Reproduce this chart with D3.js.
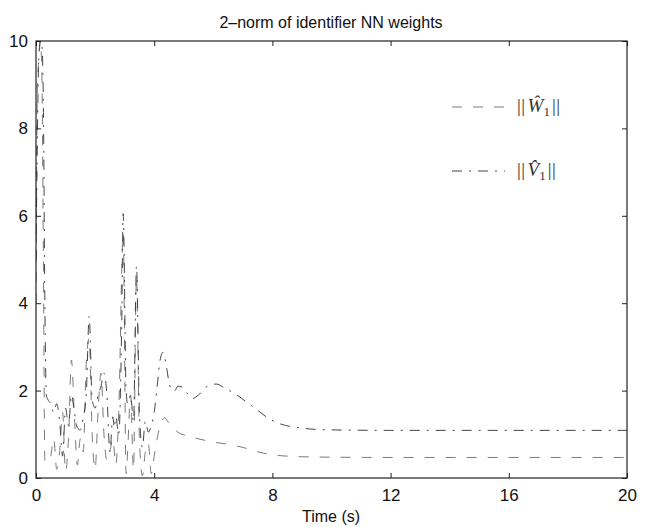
<!DOCTYPE html>
<html><head><meta charset="utf-8">
<script src="https://cdn.jsdelivr.net/npm/d3@7"></script>
<style>body{margin:0;background:#fff}svg{display:block}</style>
</head><body>
<svg id="c" width="648" height="527"></svg>
<script>
const titleText = "2\u2013norm of identifier NN weights";
const xLabelText = "Time (s)";
const xTicks = [0, 4, 8, 12, 16, 20];
const yTicks = [0, 2, 4, 6, 8, 10];

// ||W1|| (dashed)
const tW = [0,0.05,0.1,0.15,0.2,0.25,0.3,0.4,0.5,0.6,0.7,0.8,0.9,1.0,1.1,1.2,1.3,1.4,1.5,1.6,1.7,1.8,1.9,2.0,2.1,2.2,2.3,2.4,2.5,2.6,2.7,2.8,2.95,3.05,3.1,3.2,3.3,3.4,3.5,3.6,3.7,3.8,3.9,4.0,4.1,4.2,4.35,4.5,4.8,5.2,5.8,6.5,7.0,7.5,8.0,8.5,9.5,12,20];
const vW = [4,9,9.6,10,9.2,5,0.4,0.35,0.5,0.9,0.2,0.6,1.5,0.15,0.9,2.7,1.4,0.3,0.9,0.6,2.6,3.2,1.0,0.2,1.5,2.4,1.0,0.4,0.6,0.9,0.3,1.5,5.6,0.1,0.6,1.9,0.2,4.6,0.9,0.05,0.6,0.8,0.1,0.5,0.9,1.2,1.38,1.25,1.05,0.95,0.85,0.77,0.7,0.6,0.53,0.5,0.48,0.47,0.47];

// ||V1|| (dash-dot)
const tV = [0,0.05,0.1,0.15,0.2,0.25,0.3,0.35,0.4,0.5,0.6,0.7,0.8,0.9,1.0,1.1,1.2,1.3,1.4,1.5,1.6,1.7,1.8,1.9,2.0,2.1,2.2,2.3,2.4,2.5,2.6,2.65,2.7,2.8,2.9,2.95,3.05,3.1,3.2,3.3,3.4,3.5,3.6,3.7,3.8,3.9,4.0,4.1,4.2,4.3,4.4,4.5,4.6,4.7,4.8,4.95,5.1,5.3,5.5,5.8,6.1,6.4,6.8,7.1,7.5,7.9,8.3,8.8,9.3,10,12,20];
const vV = [5,8,9.7,10,9.9,8.5,4,1.9,1.8,1.7,1.5,1.7,1.3,0.5,1.6,1.2,1.9,1.5,1.15,1.1,1.4,1.9,3.7,1.8,1.6,1.9,2.1,2.4,1.9,0.6,1.4,1.15,1.4,1.0,3.5,6.05,2.0,1.7,1.9,1.3,4.85,1.5,0.7,1.3,1.05,1.2,1.5,2.1,2.7,2.88,2.6,2.2,2.0,2.0,2.1,2.08,1.95,1.82,1.9,2.1,2.15,2.05,1.9,1.75,1.55,1.35,1.23,1.16,1.12,1.1,1.09,1.09];

const svg = d3.select("#c");
const L = 36, R = 627, T = 41, B = 478;
const x = d3.scaleLinear().domain([0, 20]).range([L, R]);
const y = d3.scaleLinear().domain([0, 10]).range([B, T]);
const sans = "'Liberation Sans', Arial, sans-serif";

svg.append("defs").append("clipPath").attr("id", "clip")
  .append("rect").attr("x", L).attr("y", T - 1).attr("width", R - L).attr("height", B - T + 2);

const line = d3.line().x(d => x(d[0])).y(d => y(d[1])).curve(d3.curveMonotoneX);
const W = d3.zip(tW, vW), V = d3.zip(tV, vV);

const g = svg.append("g").attr("clip-path", "url(#clip)");
g.append("path").datum(W).attr("d", line).attr("fill", "none")
  .attr("stroke", "#7a7a7a").attr("stroke-width", 1).attr("stroke-dasharray", "10,11");
g.append("path").datum(V).attr("d", line).attr("fill", "none")
  .attr("stroke", "#444").attr("stroke-width", 1).attr("stroke-dasharray", "10,7,2,7");

// box
svg.append("rect").attr("x", L).attr("y", T).attr("width", R - L).attr("height", B - T)
  .attr("fill", "none").attr("stroke", "#222").attr("stroke-width", 1.2);

// axes with inward ticks
const xb = svg.append("g").attr("transform", `translate(0,${B})`)
  .call(d3.axisBottom(x).tickValues(xTicks).tickSizeInner(-5).tickSizeOuter(0).tickPadding(11));
const xt = svg.append("g").attr("transform", `translate(0,${T})`)
  .call(d3.axisTop(x).tickValues(xTicks).tickSizeInner(-5).tickSizeOuter(0).tickFormat(""));
const yl = svg.append("g").attr("transform", `translate(${L},0)`)
  .call(d3.axisLeft(y).tickValues(yTicks).tickSizeInner(-5).tickSizeOuter(0).tickPadding(8));
const yr = svg.append("g").attr("transform", `translate(${R},0)`)
  .call(d3.axisRight(y).tickValues(yTicks).tickSizeInner(-5).tickSizeOuter(0).tickFormat(""));
[xb, xt, yl, yr].forEach(a => {
  a.select(".domain").remove();
  a.selectAll("line").attr("stroke", "#222");
  a.selectAll("text").attr("font-family", sans).attr("font-size", 17).attr("fill", "#111");
});

// title and x label
svg.append("text").attr("x", 331).attr("y", 28).attr("text-anchor", "middle")
  .attr("font-family", sans).attr("font-size", 16).attr("fill", "#111").text(titleText);
svg.append("text").attr("x", 331).attr("y", 522).attr("text-anchor", "middle")
  .attr("font-family", sans).attr("font-size", 16).attr("fill", "#111").text(xLabelText);

// legend
const serif = "'Liberation Serif', 'DejaVu Serif', serif";
const legend = [
  {y: 107, dash: "10,11", color: "#7a7a7a", sym: "W\u0302"},
  {y: 171, dash: "10,7,2,7", color: "#444", sym: "V\u0302"}
];
legend.forEach(it => {
  svg.append("line").attr("x1", 452).attr("x2", 505).attr("y1", it.y).attr("y2", it.y)
    .attr("stroke", it.color).attr("stroke-width", 1).attr("stroke-dasharray", it.dash);
  const t = svg.append("text").attr("x", 517).attr("y", it.y + 5)
    .attr("font-family", serif).attr("font-size", 19).attr("fill", "#333");
  t.append("tspan").attr("letter-spacing", 0.5).text("||");
  t.append("tspan").attr("dx", 2).attr("font-style", "italic").text(it.sym);
  t.append("tspan").attr("font-size", 13).attr("dy", 4).text("1");
  t.append("tspan").attr("dy", -4).attr("dx", 2).attr("letter-spacing", 0.5).text("||");
});
</script>
</body></html>
